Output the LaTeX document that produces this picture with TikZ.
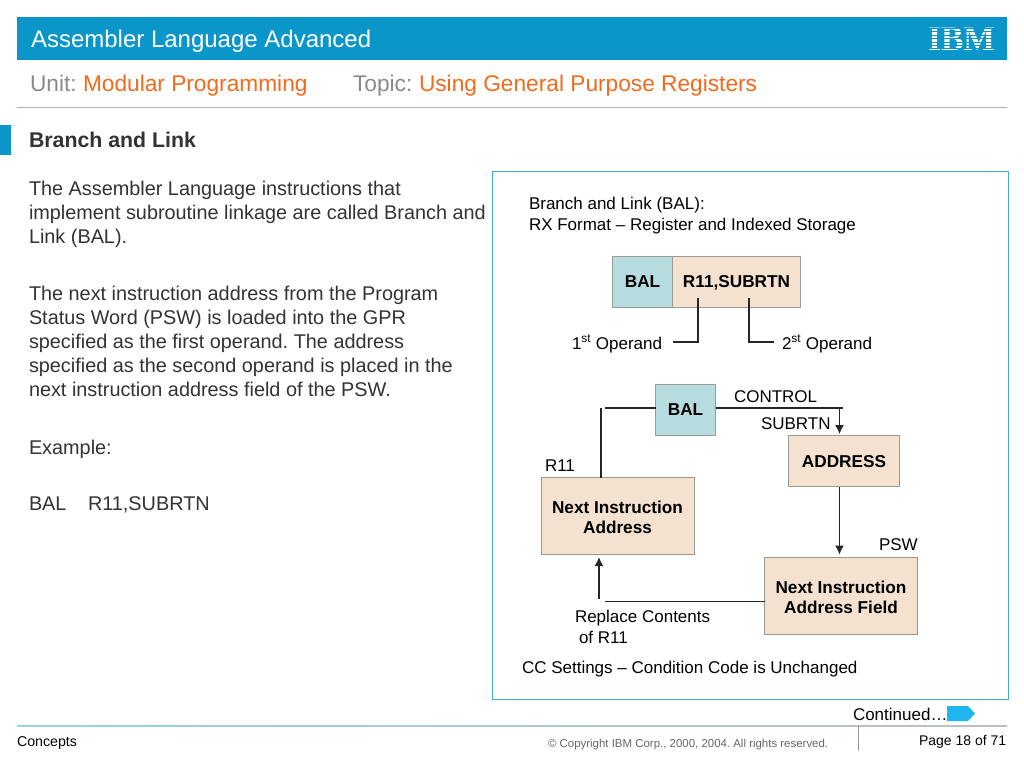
\documentclass[tikz,border=0pt]{standalone}
\usepackage{fontspec}
\setmainfont{Liberation Sans}
\usetikzlibrary{arrows.meta}
\definecolor{ibmblue}{HTML}{0A96C9}
\definecolor{teal}{HTML}{B7DCE0}
\definecolor{tan}{HTML}{F4E1CF}
\definecolor{boxedge}{HTML}{9A9A94}
\definecolor{frame}{HTML}{45AFC4}
\definecolor{orangetx}{HTML}{F26A1B}
\definecolor{greytx}{HTML}{8A8A8A}
\definecolor{darktx}{HTML}{333333}
\definecolor{contarrow}{HTML}{1FB6F0}
\tikzset{
  fs/.style={font=\frenchspacing\fontsize{#1}{#1}\selectfont},
  txt/.style={anchor=base west,inner sep=0pt,outer sep=0pt,text=darktx},
  lab/.style={txt,text=black,fs=17},
  tanbox/.style={draw=boxedge,line width=0.9pt,fill=tan,inner sep=0pt,outer sep=0pt,align=center,font=\fontsize{17.2}{20.5}\selectfont\bfseries},
  tealbox/.style={tanbox,fill=teal},
  oneline/.style={text height=14pt,text depth=1.5pt},
  conn/.style={draw=black!85,line width=1.1pt},
  arr/.style={conn,-{Latex[length=9pt,width=9pt]},line width=1.3pt},
  rule/.style={draw=#1,line width=0.8pt},
}
\begin{document}
\begin{tikzpicture}[x=1pt,y=-1pt]
\useasboundingbox (0,0) rectangle (1024,768);
\fill[white] (0,0) rectangle (1024,768);
% header
\fill[ibmblue] (17,17) rectangle (1007,60);
\node[txt,text=white,fs=24] (title) at (31,48) {Assembler Language Advanced};
\node[txt,text=white,font=\fontsize{35}{35}\selectfont\bfseries] (ibm) at (928,51) {\scalebox{0.96}[0.98]{\fontspec{Liberation Serif}[FakeStretch=1]IBM}};
\foreach \y in {28,31.4,34.8,38.2,41.6,45,48.4}{\fill[ibmblue] (925,\y) rectangle (998,\y+0.9);}
% subtitle
\node[txt,text=greytx,fs=22.7] (unit) at (30,91) {Unit:};
\node[txt,text=orangetx,fs=22.7] (unitv) at (83,91) {Modular Programming};
\node[txt,text=greytx,fs=22.7] (topic) at (353,91) {Topic:};
\node[txt,text=orangetx,fs=22.7] (topicv) at (419,91) {Using General Purpose Registers};
\draw[rule=black!30] (17,107) -- (1007,107);
% heading
\fill[ibmblue] (0,125) rectangle (11,155);
\node[txt,font=\fontsize{21.3}{21.3}\selectfont\bfseries] (head) at (29,147) {Branch and Link};
% body
\foreach \y/\t in {195/{The Assembler Language instructions that},219/{implement subroutine linkage are called Branch and},243/{Link (BAL).},
300/{The next instruction address from the Program},324/{Status Word (PSW) is loaded into the GPR},348/{specified as the first operand. The address},372/{specified as the second operand is placed in the},396/{next instruction address field of the PSW.},
454/{Example:},510/{BAL\hspace{21.5pt}R11,SUBRTN}}{
  \node[txt,fs=19.85] at (29,\y) {\t};
}
% frame
\draw[draw=frame,line width=1pt] (492,171) rectangle (1008,699);
\node[lab] (t1) at (529,209) {Branch and Link (BAL):};
\node[lab] (t2) at (529,230) {RX Format – Register and Indexed Storage};
% instruction
\node[tealbox,oneline,minimum width=60pt,minimum height=51pt] (b1) at (642.5,281.5) {BAL};
\node[tanbox,oneline,minimum width=128pt,minimum height=51pt] (b2) at (736.5,281.5) {R11,SUBRTN};
\node[lab] (op1) at (572,349) {1\textsuperscript{st} Operand};
\node[lab] (op2) at (782,349) {2\textsuperscript{st} Operand};
\coordinate (op1end) at (673,342);
\coordinate (op2end) at (774,342);
\draw[conn] (698,298) |- (op1end);
\draw[conn] (749,298) |- (op2end);
% flow
\node[tealbox,oneline,minimum width=60pt,minimum height=51pt] (bal) at (685.5,409.5) {BAL};
\node[tanbox,oneline,minimum width=111pt,minimum height=51pt] (addr) at (844,461) {ADDRESS};
\node[tanbox,minimum width=153pt,minimum height=77pt] (nia) at (617.5,516) {\rule{0pt}{15pt}Next Instruction\\Address};
\node[tanbox,minimum width=153pt,minimum height=77pt] (niaf) at (841,596) {\rule{0pt}{15pt}Next Instruction\\Address Field};
\node[lab] (ctl) at (734,402) {CONTROL};
\node[lab] (sub) at (761,429) {SUBRTN};
\node[lab] (r11) at (545,471) {R11};
\node[lab] (psw) at (879,550) {PSW};
\node[lab] (rep1) at (575,622) {Replace Contents};
\node[lab] (rep2) at (579,643) {of R11};
\node[lab] (cc) at (522,673) {CC Settings – Condition Code is Unchanged};
\node[lab] (cont) at (853,720) {Continued…};
\coordinate (ctlend) at (843,408);
\coordinate (toaddr) at (839.5,408);
\coordinate (balleft) at (605,408);
\coordinate (niaup) at (601,477.5);
\coordinate (balcorner) at (601,408);
\coordinate (back) at (605,601.5);
\coordinate (arrstart) at (599,599);
\coordinate (arrend) at (599,557);
\draw[conn] (bal.east |- ctlend) -- (ctlend);
\draw[arr,shorten >=1.5pt] (toaddr) -- (toaddr |- addr.north);
\draw[arr,shorten >=3pt] (toaddr |- addr.south) -- (toaddr |- niaf.north);
\draw[conn] (bal.west |- balleft) -- (balleft);
\draw[conn] (niaup) -- (balcorner);
\draw[conn] (niaf.west |- back) -- (back);
\draw[arr,line width=1.6pt] (arrstart) -- (arrend);
% footer arrow
\fill[contarrow] (947,706) -- (968,706) -- (975,713.5) -- (968,721) -- (947,721) -- cycle;
% footer
\shade[left color=frame!55,right color=black!25] (17,725.6) rectangle (1007,726.4);
\draw[draw=black!40,line width=1pt] (858,726) -- (858,751);
\node[txt,text=black,fs=14.2] (concepts) at (17,746) {Concepts};
\node[txt,text=black!60,fs=11.45] (copy) at (548,747) {© Copyright IBM Corp., 2000, 2004. All rights reserved.};
\node[txt,text=black,fs=14] (page) at (919,745) {Page 18 of 71};
\end{tikzpicture}
\end{document}
